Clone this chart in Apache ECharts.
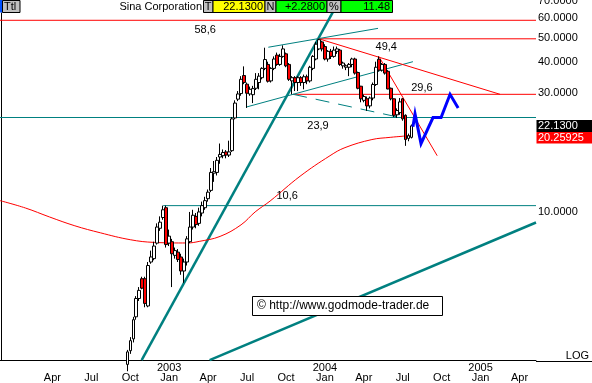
<!DOCTYPE html>
<html><head><meta charset="utf-8">
<script src="https://cdn.jsdelivr.net/npm/echarts@6/dist/echarts.min.js"></script>
<style>html,body{margin:0;padding:0;background:#fff;}#c{width:592px;height:383px;}</style>
</head><body><div id="c"></div>
<script>
// ---------- DATA ----------
const weekStartUTC = Date.UTC(2001, 11, 3);   // Monday of first weekly slot
const weekTotal = 179;
const candleFirstWeek = 42;                    // 2002-09-23
const opens  = [2.45,2.78,3.1,3.8,4.5,5.4,5.4,4.2,6.3,6.5,7.5,8.6,9.5,10.4,7.5,7.6,6.7,6.9,6.6,5.8,6.3,7.6,8.7,9.6,9.0,9.9,10.4,11.3,12.2,14.3,14.4,16.6,16.8,17.4,16.9,17.6,23.8,28.3,29.8,35.2,32.5,29.7,29.5,31.3,33,34.5,37.6,39,33.5,37.6,42.5,39,42,43,39,33.5,34.5,33,34.5,33,34.8,33.5,37.6,41,45,48,46,41,44,42,44,44.5,38.5,38,38,39,41,36.2,31.9,28,28.4,26.6,28.6,32.4,40.9,37,39,36.6,31.3,28.4,24.5,25,28.4,24.4,19.7,19.9];
const highs  = [2.8,3.15,3.8,4.6,5.0,5.5,5.5,6.3,7.0,7.6,9.0,9.6,10.6,10.6,8.5,7.8,7.2,7.1,6.8,6.5,8.0,10.0,10.2,9.9,10.4,11.0,11.5,12.3,15.0,16.0,16.6,18.8,17.8,17.7,19.3,24.0,28.0,30.5,35.0,38.3,33.0,31.8,32.0,36,36,38,45.5,40,38,42,43.5,43,46.5,43.5,39.5,35,35,35,35,35.5,35.5,38.5,42.5,48,49.4,48.5,47,44.5,45,46,46,45,40,39,39.5,41.5,41.5,36.5,32,29.5,29,29,33,40,42,39.5,39.5,37,31.5,28.5,26,28.6,28.6,24.6,20.6,22.4];
const lows   = [2.3,2.7,3.0,3.7,4.4,4.9,4.15,4.15,6.2,6.4,7.4,8.4,9.3,7.2,7.3,5.0,6.5,6.3,5.6,5.2,6.1,7.5,8.5,8.6,8.8,9.6,10.2,11.0,12.0,13.2,14.0,15.6,16.4,16.4,16.6,17.4,23.5,27.8,29.2,32.5,26.1,29.2,27.3,30.8,31,34,37,33,33,37,38.5,38.5,41.5,38,33.5,29.6,30.5,30.5,32,31,32.5,33,37,40.5,44.5,44,40.5,40,41,41.5,43,38.5,37.5,37,35,38,35.5,31,27.5,27.5,25.4,26,28,32,36.5,36.5,35.5,31,28,24,23.8,24.5,23.2,18.4,19.2,19.7];
const closes = [2.75,3.05,3.7,4.5,4.85,4.95,4.3,6.1,6.6,7.3,8.7,9.1,10.2,7.4,8.0,6.8,7.0,6.45,5.8,6.3,7.8,8.7,9.7,8.9,10.0,10.6,11.1,12.0,14.4,14.5,16.1,17.0,17.3,16.9,17.4,23.6,27.3,29.7,34.0,33.0,29.9,31.0,31.2,34.0,35,37.6,40.8,33.4,37.6,41,39,42,45,38.5,34,34.5,33,34.5,33,34.8,33.5,38,42,47,49,45,41,44,42,44.5,45,39,39.5,38.5,39,41,36,31.3,28.4,29,26.6,28.6,32.4,38,37,39,36,31.1,28.4,24.4,25.5,27.6,23.6,19.5,20.2,22.13];

const maWeeks  = [-0.5,8,16,24.5,33,43,51,62,66,73,80,84.7,89.7,99.7,109.7,114.7,123.7,129.8,133.8,137];
const maValues = [11.1,10.37,9.55,8.8,8.25,7.74,7.55,7.51,7.62,7.98,8.88,10.0,11.06,13.9,16.8,18.1,19.5,19.9,20.1,20.26];

const levelValues = [58.6, 49.4, 29.6, 23.9, 10.6];
const levelFromWeeks = [-0.5, 106, 97.4, -0.5, 54];
const levelColors = ['#ff0000','#ff0000','#ff0000','#008080','#008080'];
const levelTexts = ['58,6','49,4','29,6','23,9','10,6'];
const levelLabelWeeks = [68, 128.5, 140.4, 105.7, 95.4];
const levelLabelDy = [10, 8, -6.5, 8, -10];

const trendFrom = [[46.8,2.55],[69.5,2.55],[89.1,45.7],[81.9,26.35],[97.4,29.6],[106,49.4],[126,42]];
const trendTo   = [[112.4,69],[178.5,9.07],[125.75,54.4],[137.4,40.0],[132.4,24.0],[166.5,29.6],[145.5,16.8]];
const trendColors = ['#008080','#008080','#008080','#008080','#008080','#ff0000','#ff0000'];
const trendWidths = [2.5,2.5,1,1,1,1,1];
const trendDashed = [false,false,false,false,true,false,false];

const arrowWeeks  = [137.4,138.1,140.1,144.1,146.8,149.8,152.5];
const arrowValues = [21.95,24.7,18.78,23.9,23.9,29.6,26.1];

const yTickValues = [10,30,40,50,60,70];
const lastPrice = 22.13, lastMA = 20.25925;
const monthNames = {0:'Jan',3:'Apr',6:'Jul',9:'Oct'};
const headerTitle = 'Sina Corporation', headerPrice = '22.1300', headerChange = '+2.2800', headerPct = '11.48';
const watermark = '\u00A9 http://www.godmode-trader.de';

// ---------- BUILD ----------
const DAY = 86400000;
const weekCats = [], weekLabels = [];
for (let i = 0; i < weekTotal; i++) {
  const t0 = weekStartUTC + i*7*DAY;
  const d = new Date(t0);
  weekCats.push(d.toISOString().slice(0,10));
  let lab = null;
  for (let k = 0; k < 7; k++) {
    const dd = new Date(t0 + k*DAY);
    if (dd.getUTCDate() === 1 && dd.getUTCMonth() % 3 === 0) {
      const m = dd.getUTCMonth();
      lab = m === 0 ? (dd.getUTCFullYear() + '\n' + monthNames[m]) : ('\n' + monthNames[m]);
    }
  }
  weekLabels.push(i < 10 ? null : lab);
}
const candleData = weekCats.map((c,i) => {
  const j = i - candleFirstWeek;
  if (j < 0 || j >= opens.length) return '-';
  return [opens[j], closes[j], lows[j], highs[j]];
});

const FONT = '"Liberation Sans", Arial, sans-serif';
const series = [];
levelValues.forEach((v,i) => series.push({
  type:'line', xAxisIndex:1, yAxisIndex:0, symbol:'none', silent:true, z:2,
  data:[[levelFromWeeks[i], v],[178.5, v]],
  lineStyle:{color:levelColors[i], width:1}
}));
trendFrom.forEach((f,i) => series.push({
  type:'line', xAxisIndex:1, yAxisIndex:0, symbol:'none', silent:true, z:2,
  data:[f, trendTo[i]],
  lineStyle:{color:trendColors[i], width:trendWidths[i], type: trendDashed[i] ? [14,9] : 'solid'}
}));
series.push({
  type:'line', xAxisIndex:1, yAxisIndex:0, symbol:'none', silent:true, smooth:0.4, z:2,
  data: maWeeks.map((w,i)=>[w, maValues[i]]),
  lineStyle:{color:'#ff0000', width:1}
});
series.push({
  type:'candlestick', xAxisIndex:0, yAxisIndex:0, barWidth:3, silent:true, z:3,
  data: candleData,
  itemStyle:{color:'#ffffff', color0:'#ff0000', borderColor:'#000000', borderColor0:'#000000', borderWidth:1}
});
series.push({
  type:'line', xAxisIndex:1, yAxisIndex:0, symbol:'none', silent:true, z:4,
  data: arrowWeeks.map((w,i)=>[w, arrowValues[i]]),
  lineStyle:{color:'#0000ff', width:3, join:'miter'}
});

const chart = echarts.init(document.getElementById('c'), null, {renderer:'canvas', width:592, height:383});
chart.setOption({
  animation:false,
  backgroundColor:'#ffffff',
  grid:{left:0, right:56, top:-2, bottom:21, containLabel:false},
  xAxis:[
    {type:'category', data:weekCats, boundaryGap:true,
     axisLine:{show:true, lineStyle:{color:'#000', width:1}},
     axisTick:{show:false}, splitLine:{show:false},
     axisLabel:{interval:(i)=>weekLabels[i]!==null, formatter:(v,i)=>weekLabels[i]||'',
       margin:2, fontSize:11, lineHeight:10, color:'#000', fontFamily:FONT}},
    {type:'value', min:-0.5, max:weekTotal-0.5, show:false}
  ],
  yAxis:[{type:'log', logBase:10, min:10*Math.pow(10,(212-362)/252), max:10*Math.pow(10,(212+2)/252),
    position:'right', axisLine:{show:true, lineStyle:{color:'#000', width:1}},
    axisTick:{show:false}, axisLabel:{show:false}, splitLine:{show:false}}],
  series: series
});

// ---------- OVERLAY TEXTS ----------
const X = w => chart.convertToPixel({xAxisIndex:1}, w);
const Y = v => chart.convertToPixel({yAxisIndex:0}, v);
const g = [];
const txt = (x,y,text,opt) => Object.assign({type:'text', x:x, y:y, z:50, silent:true,
  style:Object.assign({text:text, font:'11px '+FONT, fill:'#000', textAlign:'left', textVerticalAlign:'middle'}, opt||{})});
const rect = (x,y,w,h,fill,stroke) => ({type:'rect', z:49, silent:true, shape:{x:x,y:y,width:w,height:h},
  style:{fill:fill, stroke:stroke||null, lineWidth:1}});

yTickValues.forEach(v => g.push(txt(538, Y(v), v.toFixed(4))));
const yp = Math.round(Y(lastPrice));
g.push(rect(536.5, yp-6, 56, 12, '#000000'));
g.push(txt(538, yp, lastPrice.toFixed(4), {fill:'#ffffff'}));
g.push(rect(536.5, yp+6, 56, 11.5, '#ff0000'));
g.push(txt(538, yp+12, String(lastMA), {fill:'#ffffff'}));
g.push(txt(589, 356, 'LOG', {textAlign:'right'}));
g.push({type:'line', z:49, silent:true, shape:{x1:536, y1:361.5, x2:592, y2:361.5}, style:{stroke:'#000', lineWidth:1}});

levelValues.forEach((v,i) => g.push(txt(X(levelLabelWeeks[i]), Y(v)+levelLabelDy[i], levelTexts[i], {textAlign:'center'})));

// watermark
g.push(rect(252.5, 296.5, 190, 19, '#ffffff', '#000000'));
g.push(txt(257, 306, watermark, {font:'12px '+FONT}));

// header
g.push(rect(0, 0, 392, 12.5, '#ffffff'));
g.push(rect(0, 0, 2.5, 12.5, '#0050ff'));
g.push(rect(2.5, 0.5, 17.5, 12, '#c0c0c0', '#000'));
g.push(txt(4, 6.5, 'Ttl', {font:'11px '+FONT}));
g.push(txt(202, 6.5, headerTitle, {textAlign:'right'}));
g.push(rect(203.5, 0.5, 9.5, 12, '#c0c0c0', '#000'));
g.push(txt(208, 6.5, 'T', {textAlign:'center'}));
g.push(rect(213, 0.5, 52, 12, '#ffff00', '#000'));
g.push(txt(263, 6.5, headerPrice, {textAlign:'right'}));
g.push(rect(265, 0.5, 11, 12, '#c0c0c0', '#000'));
g.push(txt(270.5, 6.5, 'N', {textAlign:'center'}));
g.push(rect(276, 0.5, 51, 12, '#00ff00', '#000'));
g.push(txt(325, 6.5, headerChange, {textAlign:'right'}));
g.push(rect(327, 0.5, 14, 12, '#c0c0c0', '#000'));
g.push(txt(334, 6.5, '%', {textAlign:'center'}));
g.push(rect(341, 0.5, 51.5, 12, '#00ff00', '#000'));
g.push(txt(390, 6.5, headerPct, {textAlign:'right'}));

chart.setOption({graphic: g});
</script></body></html>
